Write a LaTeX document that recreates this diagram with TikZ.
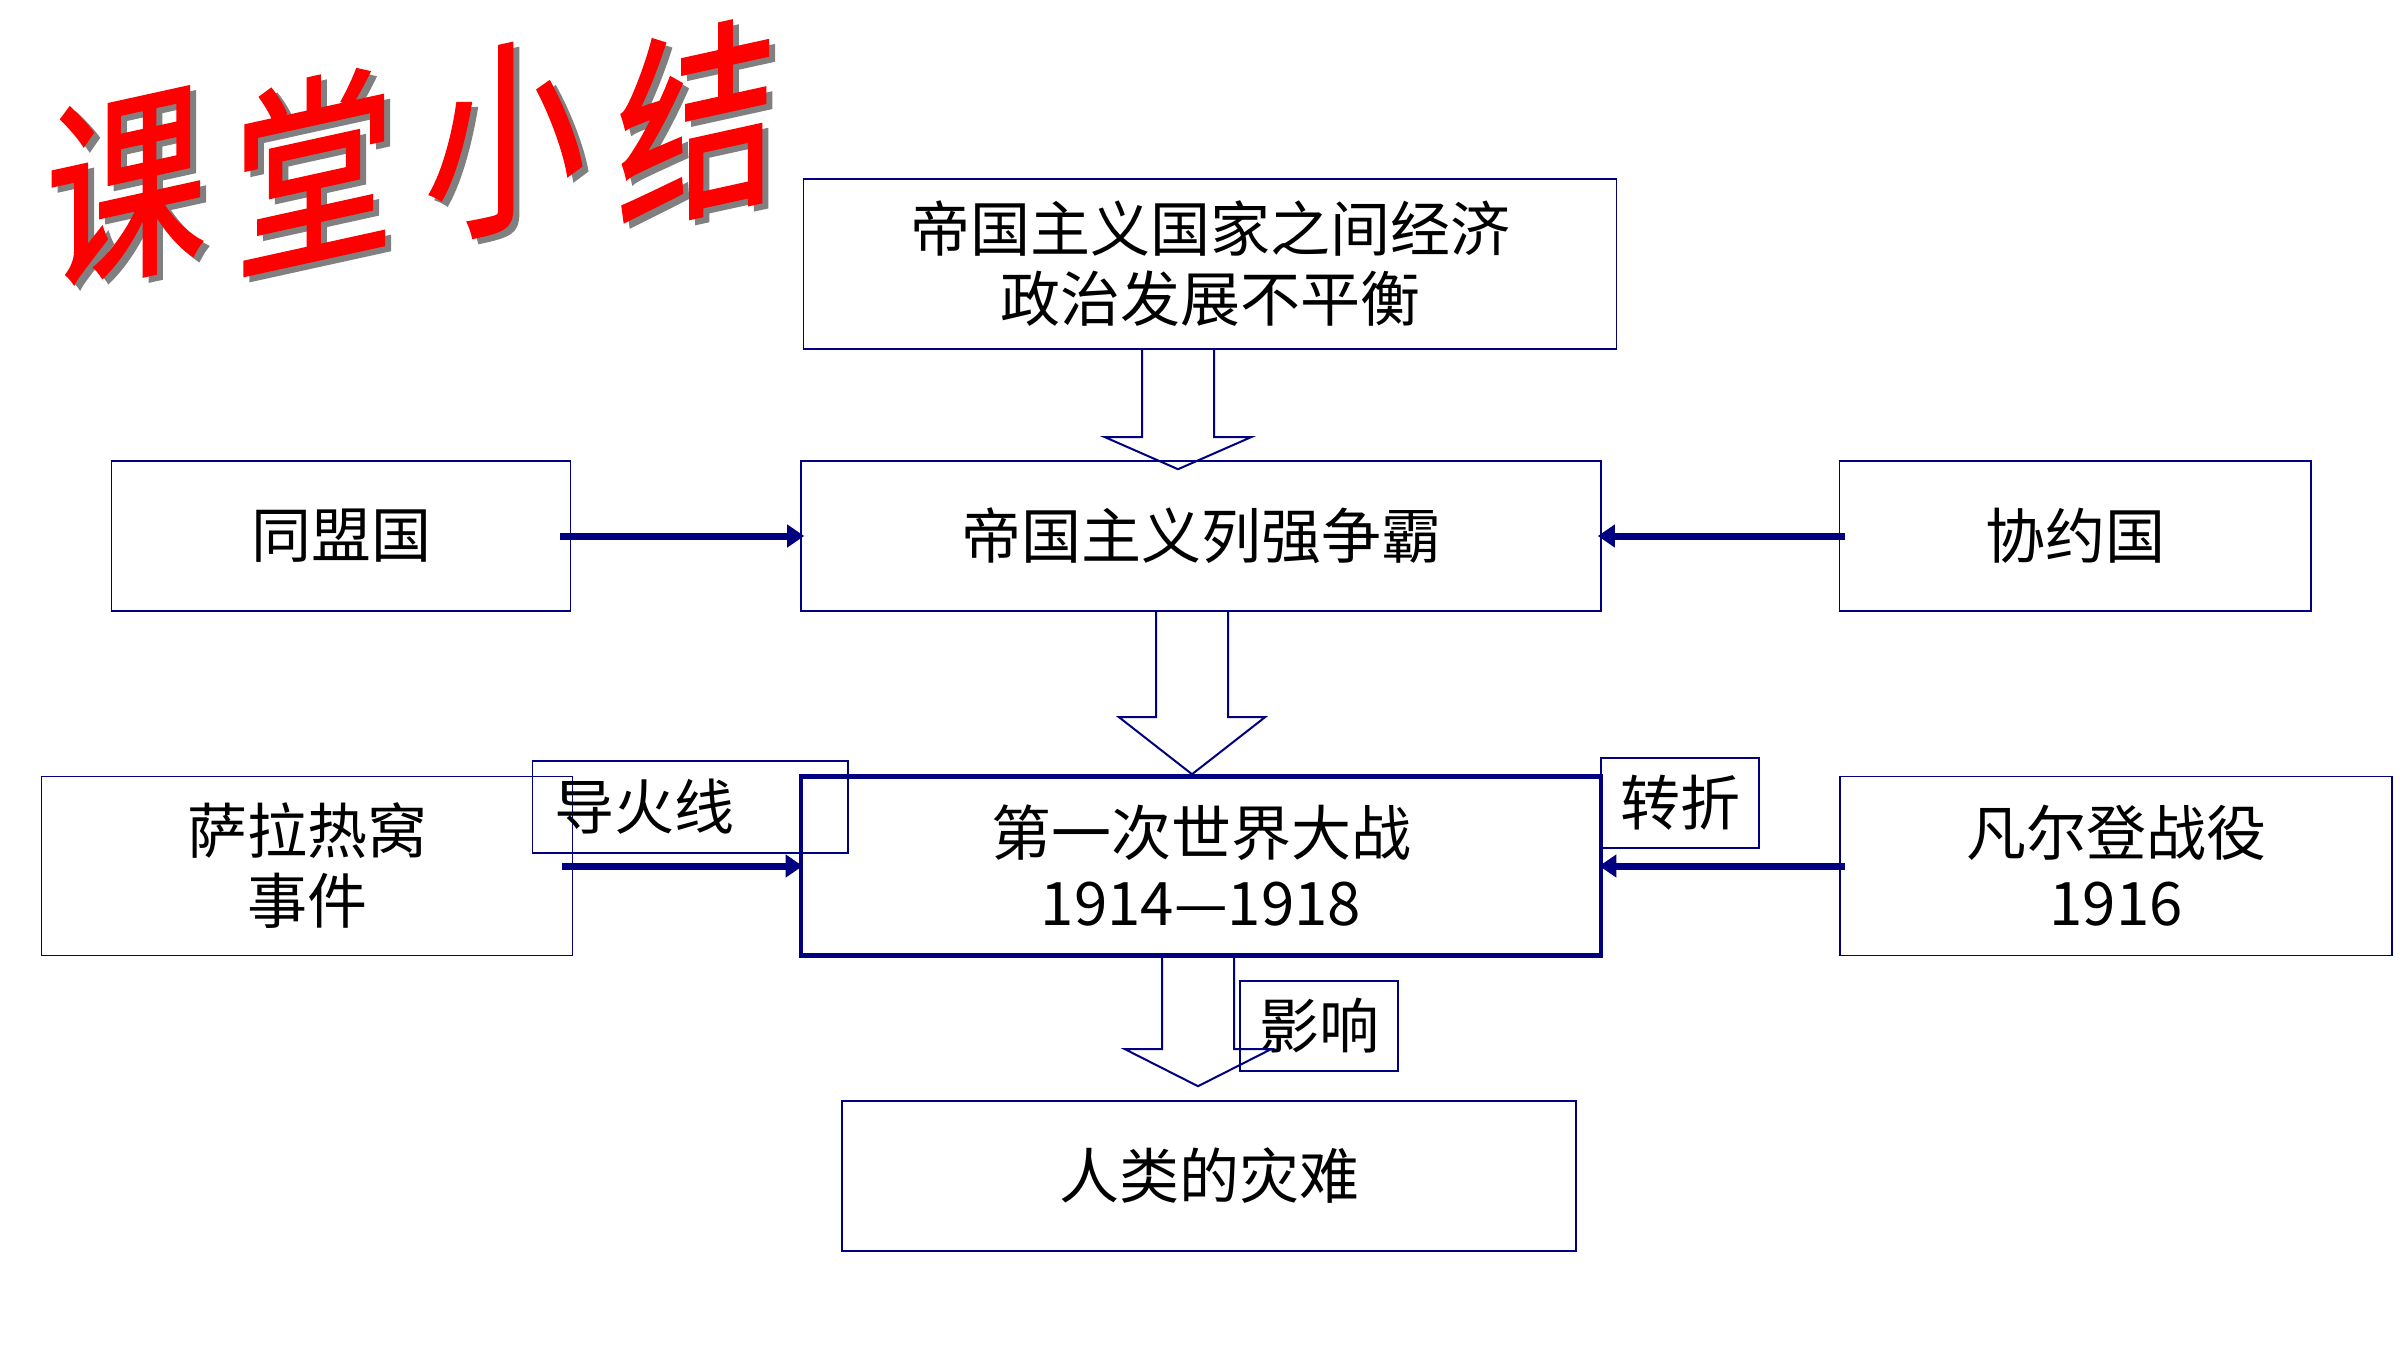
\documentclass[tikz,border=0pt]{standalone}
\usepackage{fontspec}
\newfontfamily\cjkfont{Noto Sans CJK SC}
\newfontfamily\titlefont{Noto Sans CJK SC}[FakeBold=1.5]
\usepackage{tikz}
\usetikzlibrary{calc,arrows.meta}
\definecolor{navyline}{RGB}{0,0,128}
\definecolor{titlered}{RGB}{255,0,0}

\begin{document}
\begin{tikzpicture}[x=0.5pt,y=-0.5pt,
  box/.style={draw=navyline,line width=0.8pt,inner sep=0pt,align=center,text=black,
    font=\cjkfont\fontsize{30}{35}\selectfont},
  tag/.style={box,minimum width=78.8pt,minimum height=45pt},
  feed/.style={navyline,line width=3.5pt,shorten >=-2pt,-{Triangle[length=8.5pt,width=11pt]}},
  hollow/.style={draw=navyline,line width=1pt,line join=miter},
  titlechar/.style={text=titlered,inner sep=0pt,font=\titlefont\fontsize{80}{80}\selectfont}]
  \useasboundingbox[fill=white] (0,0) rectangle (2400,1350);

  % title, slanted letters with a grey shadow
  \foreach \ch/\px/\py [count=\i] in {课/126/191,堂/314/172,小/505/141,结/697/126}{
    \begin{scope}[shift={(\px,\py)},yslant=0.22,yscale=1.28,transform shape]
      \node[titlechar] (title\i) at (0,0) {\rlap{\hspace{3pt}\raisebox{-2.5pt}{\color{gray}\ch}}\ch};
    \end{scope}}

  % boxes
  \node[box,minimum width=406.5pt,minimum height=85pt] (causes) at (1210,264) {帝国主义国家之间经济\\政治发展不平衡};
  \node[box,minimum width=400pt,minimum height=75pt] (rivalry) at (1201,536) {帝国主义列强争霸};
  \node[box,minimum width=229.6pt,minimum height=75pt] (central) at (341,536) {同盟国};
  \node[box,minimum width=235.7pt,minimum height=75pt] (entente) at (2075,536) {协约国};
  \node[box,minimum width=265.5pt,minimum height=89.5pt] (sarajevo) at (307,866) {萨拉热窝\\事件};
  \node[box,line width=2.3pt,minimum width=400pt,minimum height=89.5pt] (ww1) at (1201,866) {第一次世界大战\\1914—1918};
  \node[box,minimum width=276pt,minimum height=89.5pt] (verdun) at (2116,866) {凡尔登战役\\1916};
  \node[box,minimum width=367pt,minimum height=75pt] (disaster) at (1209,1176) {人类的灾难};
  \node[box,minimum width=157.7pt,minimum height=46pt,text width=136pt,inner xsep=10.7pt,align=left] (fuse) at (690,807) {导火线};
  \node[tag] (turn) at (1680,803) {转折};
  \node[tag] (impact) at (1319,1026) {影响};

  % side arrows
  \draw[feed,shorten <=-5.5pt] (central.east) -- (rivalry.west);
  \draw[feed,shorten <=-3pt] (entente.west) -- (rivalry.east);
  \draw[feed,shorten <=-5.5pt] (sarajevo.east) -- (ww1.west);
  \draw[feed,shorten <=-3pt] (verdun.west) -- (ww1.east);

  % hollow block arrows down the middle
  \foreach \src/\dst/\ax/\tip/\head in {causes/rivalry/1178/9/32,rivalry/ww1/1192/0/57,ww1/disaster/1198/-14/37}{
    \coordinate (ax) at (\ax,0);
    \draw[hollow] ($(ax |- \src.south)+(-36,0)$) -- ($(ax |- \dst.north)+(-36,\tip-\head)$)
      -- ($(ax |- \dst.north)+(-73,\tip-\head)$) -- ($(ax |- \dst.north)+(0,\tip)$)
      -- ($(ax |- \dst.north)+(73,\tip-\head)$) -- ($(ax |- \dst.north)+(36,\tip-\head)$)
      -- ($(ax |- \src.south)+(36,0)$);}
\end{tikzpicture}
\end{document}
